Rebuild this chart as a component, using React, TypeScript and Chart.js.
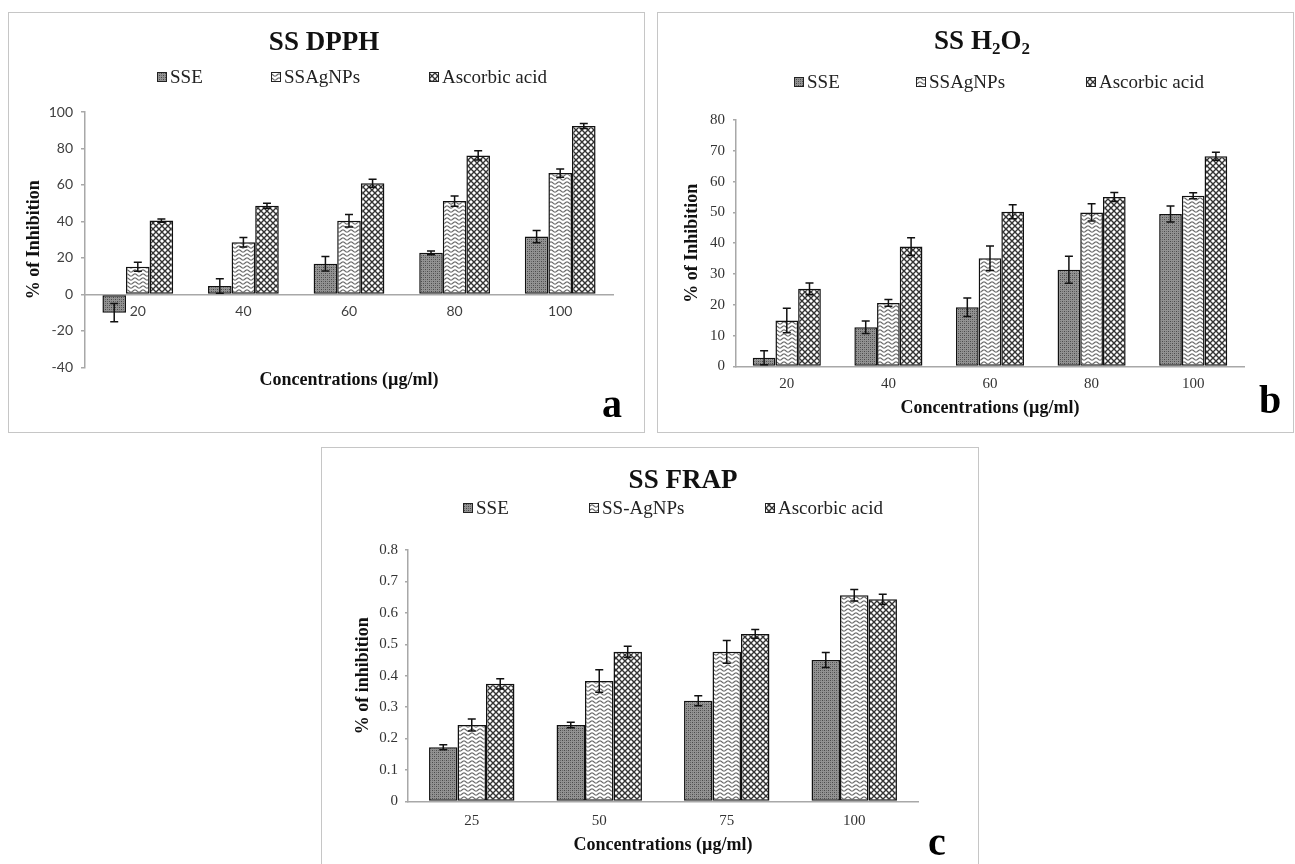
import React, { useEffect, useRef } from 'react';
import { Chart, registerables } from 'chart.js';

Chart.register(...registerables);

// ---------- DATA ----------
const dpphLabels = ['20', '40', '60', '80', '100'];
const dpphSSE = [-10, 4.6, 16.8, 22.8, 31.7];
const dpphSSEErr = [5, 4, 4, 1, 3.4];
const dpphAg = [15.2, 28.6, 40.4, 51.2, 66.5];
const dpphAgErr = [2.5, 2.6, 3.4, 2.8, 2.2];
const dpphAA = [40.5, 48.6, 61, 76.2, 92.3];
const dpphAAErr = [0.9, 1.4, 2.2, 2.5, 1.4];

const h2o2Labels = ['20', '40', '60', '80', '100'];
const h2o2SSE = [2.8, 12.7, 19.2, 31.4, 49.5];
const h2o2SSEErr = [2.3, 2, 3, 4.4, 2.6];
const h2o2Ag = [14.9, 20.6, 35.1, 50, 55.4];
const h2o2AgErr = [4, 1.1, 4, 2.8, 1];
const h2o2AA = [25.2, 38.9, 50.2, 55, 68.2];
const h2o2AAErr = [1.9, 2.9, 2.3, 1.5, 1.3];

const frapLabels = ['25', '50', '75', '100'];
const frapSSE = [0.172, 0.243, 0.32, 0.45];
const frapSSEErr = [0.008, 0.009, 0.016, 0.024];
const frapAg = [0.243, 0.383, 0.476, 0.656];
const frapAgErr = [0.019, 0.036, 0.036, 0.018];
const frapAA = [0.374, 0.476, 0.533, 0.643];
const frapAAErr = [0.016, 0.018, 0.014, 0.016];

const seriesNames = ['SSE', 'SSAgNPs', 'Ascorbic acid'];
const seriesNamesFrap = ['SSE', 'SS-AgNPs', 'Ascorbic acid'];
const xTitle = 'Concentrations (µg/ml)';
const yTitleUpper = '% of Inhibition';
const yTitleLower = '% of inhibition';

// ---------- PATTERNS ----------
function makeTile(w: number, h: number, draw: (c: CanvasRenderingContext2D) => void) {
  const t = document.createElement('canvas');
  t.width = w;
  t.height = h;
  const c = t.getContext('2d') as CanvasRenderingContext2D;
  draw(c);
  return t;
}

function makePatterns(ctx: CanvasRenderingContext2D) {
  const sse = makeTile(4, 4, (c) => {
    c.fillStyle = '#929292';
    c.fillRect(0, 0, 4, 4);
    c.fillStyle = '#4a4a4a';
    c.fillRect(0, 0, 1, 1);
    c.fillRect(2, 2, 1, 1);
    c.fillStyle = '#6a6a6a';
    c.fillRect(2, 0, 1, 1);
    c.fillRect(0, 2, 1, 1);
  });
  const ag = makeTile(8, 4, (c) => {
    c.fillStyle = '#ffffff';
    c.fillRect(0, 0, 8, 4);
    c.strokeStyle = '#6a6a6a';
    c.lineWidth = 1.2;
    c.beginPath();
    for (let i = -1; i <= 9; i += 0.5) {
      const y = 2 + Math.sin((i / 8) * Math.PI * 2) * 1.1;
      if (i === -1) c.moveTo(i, y);
      else c.lineTo(i, y);
    }
    c.stroke();
  });
  const aa = makeTile(6, 6, (c) => {
    c.fillStyle = '#ffffff';
    c.fillRect(0, 0, 6, 6);
    c.strokeStyle = '#333333';
    c.lineWidth = 1.4;
    c.beginPath();
    c.moveTo(-1, -1);
    c.lineTo(7, 7);
    c.moveTo(7, -1);
    c.lineTo(-1, 7);
    c.stroke();
  });
  return [
    ctx.createPattern(sse, 'repeat'),
    ctx.createPattern(ag, 'repeat'),
    ctx.createPattern(aa, 'repeat'),
  ];
}

// ---------- PLUGINS ----------
const errorBarPlugin = {
  id: 'errorBars',
  afterDatasetsDraw(chart: any) {
    const ctx = chart.ctx;
    const y = chart.scales.y;
    chart.data.datasets.forEach((ds: any, i: number) => {
      const errs = ds.errors;
      if (!errs) return;
      const meta = chart.getDatasetMeta(i);
      meta.data.forEach((bar: any, j: number) => {
        const v = ds.data[j];
        const e = errs[j];
        const top = y.getPixelForValue(v + e);
        const bot = y.getPixelForValue(v - e);
        const x = bar.x;
        ctx.save();
        ctx.strokeStyle = '#111';
        ctx.lineWidth = 1.5;
        ctx.beginPath();
        ctx.moveTo(x, top);
        ctx.lineTo(x, bot);
        ctx.moveTo(x - 4, top);
        ctx.lineTo(x + 4, top);
        ctx.moveTo(x - 4, bot);
        ctx.lineTo(x + 4, bot);
        ctx.stroke();
        ctx.restore();
      });
    });
  },
};

const decorPlugin = {
  id: 'decor',
  afterDraw(chart: any, _args: any, opts: any) {
    const ctx = chart.ctx;
    ctx.save();
    const bigFont = 'bold 27px "Liberation Serif"';
    const subFont = 'bold 17px "Liberation Serif"';
    let total = 0;
    opts.title.forEach((seg: any) => {
      ctx.font = seg.sub ? subFont : bigFont;
      total += ctx.measureText(seg.text).width;
    });
    let x = opts.titleX - total / 2;
    ctx.fillStyle = '#111';
    ctx.textAlign = 'left';
    ctx.textBaseline = 'alphabetic';
    opts.title.forEach((seg: any) => {
      ctx.font = seg.sub ? subFont : bigFont;
      ctx.fillText(seg.text, x, opts.titleY + (seg.sub ? 5 : 0));
      x += ctx.measureText(seg.text).width;
    });

    chart.data.datasets.forEach((ds: any, i: number) => {
      const bx = opts.legendX[i];
      const by = opts.legendY;
      ctx.fillStyle = ds.backgroundColor;
      ctx.fillRect(bx, by - 5, 10, 10);
      ctx.strokeStyle = '#222';
      ctx.lineWidth = 1;
      ctx.strokeRect(bx + 0.5, by - 4.5, 9, 9);
      ctx.fillStyle = '#222';
      ctx.font = '19px "Liberation Serif"';
      ctx.textBaseline = 'middle';
      ctx.fillText(ds.label, bx + 13, by + 1);
    });

    ctx.font = 'bold 40px "Liberation Serif"';
    ctx.textAlign = 'center';
    ctx.textBaseline = 'alphabetic';
    ctx.fillStyle = '#000';
    ctx.fillText(opts.letter, opts.letterX, opts.letterY);
    ctx.restore();
  },
};

// ---------- PANELS ----------
const serifTick = { family: 'Liberation Serif', size: 15 };
const sansTick = { family: 'Lato', size: 14 };
const axisTitleFont = { family: 'Liberation Serif', size: 18, weight: 'bold' as const };

const panelA = {
  left: 8, top: 12, w: 635, h: 419,
  labels: dpphLabels,
  values: [dpphSSE, dpphAg, dpphAA],
  errors: [dpphSSEErr, dpphAgErr, dpphAAErr],
  names: seriesNames,
  yMin: -40, yMax: 100, yStep: 20,
  zeroAxis: true,
  tickFont: sansTick, tickColor: '#404040',
  padding: { left: 8, right: 31, top: 99, bottom: 41 },
  yWidth: 68, yTitlePad: 7, yTitle: yTitleUpper,
  yTickLen: 4, yTickPad: 8,
  xTickPad: 9, xTitlePad: 2,
  decor: {
    title: [{ text: 'SS DPPH' }],
    titleX: 315, titleY: 37,
    legendX: [148, 262, 420], legendY: 64,
    letter: 'a', letterX: 603, letterY: 404,
  },
};

const panelB = {
  left: 657, top: 12, w: 635, h: 419,
  labels: h2o2Labels,
  values: [h2o2SSE, h2o2Ag, h2o2AA],
  errors: [h2o2SSEErr, h2o2AgErr, h2o2AAErr],
  names: seriesNames,
  yMin: 0, yMax: 80, yStep: 10,
  zeroAxis: false,
  tickFont: serifTick, tickColor: '#333',
  padding: { left: 8, right: 49, top: 107, bottom: 13 },
  yWidth: 70, yTitlePad: 16, yTitle: yTitleUpper,
  yTickLen: 3, yTickPad: 8,
  xTickPad: 9, xTitlePad: -5,
  decor: {
    title: [{ text: 'SS H' }, { text: '2', sub: true }, { text: 'O' }, { text: '2', sub: true }],
    titleX: 324, titleY: 36,
    legendX: [136, 258, 428], legendY: 69,
    letter: 'b', letterX: 612, letterY: 400,
  },
};

const panelC = {
  left: 321, top: 447, w: 656, h: 428,
  labels: frapLabels,
  values: [frapSSE, frapAg, frapAA],
  errors: [frapSSEErr, frapAgErr, frapAAErr],
  names: seriesNamesFrap,
  yMin: 0, yMax: 0.8, yStep: 0.1,
  zeroAxis: false,
  tickFont: serifTick, tickColor: '#333',
  padding: { left: 8, right: 60, top: 102, bottom: 20 },
  yWidth: 78, yTitlePad: 23, yTitle: yTitleLower,
  yTickLen: 3, yTickPad: 7,
  xTickPad: 11, xTitlePad: -7,
  decor: {
    title: [{ text: 'SS FRAP' }],
    titleX: 361, titleY: 40,
    legendX: [141, 267, 443], legendY: 60,
    letter: 'c', letterX: 615, letterY: 407,
  },
};

function Panel({ cfg }: { cfg: any }) {
  const ref = useRef<HTMLCanvasElement | null>(null);

  useEffect(() => {
    const canvas = ref.current;
    if (!canvas) return;
    const ctx = canvas.getContext('2d') as CanvasRenderingContext2D;
    const pats = makePatterns(ctx);
    const axisGray = '#a8a8a8';

    const scales: any = {
      x: {
        type: 'category',
        position: cfg.zeroAxis ? { y: 0 } : 'bottom',
        afterFit: cfg.zeroAxis ? (s: any) => { s.height = 0; } : undefined,
        grid: { display: false, drawTicks: false },
        border: { display: true, color: axisGray, width: 1.5 },
        ticks: { font: cfg.tickFont, color: cfg.tickColor, padding: cfg.xTickPad, maxRotation: 0 },
        title: cfg.zeroAxis
          ? { display: false }
          : { display: true, text: xTitle, font: axisTitleFont, color: '#111', padding: { top: cfg.xTitlePad, bottom: 0 } },
      },
    };
    if (cfg.zeroAxis) {
      scales.x2 = {
        type: 'category',
        axis: 'x',
        position: 'bottom',
        grid: { display: false, drawTicks: false },
        border: { display: false },
        ticks: { display: false },
        title: { display: true, text: xTitle, font: axisTitleFont, color: '#111', padding: { top: cfg.xTitlePad, bottom: 0 } },
      };
    }
    scales.y = {
      min: cfg.yMin,
      max: cfg.yMax,
      afterFit: (s: any) => { s.width = cfg.yWidth; },
      ticks: { stepSize: cfg.yStep, font: cfg.tickFont, color: cfg.tickColor, padding: cfg.yTickPad },
      grid: { display: true, drawOnChartArea: false, drawTicks: true, tickLength: cfg.yTickLen, color: axisGray, lineWidth: 1.5 },
      border: { display: true, color: axisGray, width: 1.5 },
      title: { display: true, text: cfg.yTitle, font: axisTitleFont, color: '#111', padding: { top: cfg.yTitlePad, bottom: 0 } },
    };

    const chart = new Chart(ctx, {
      type: 'bar',
      data: {
        labels: cfg.labels,
        datasets: cfg.values.map((vals: number[], i: number) => ({
          label: cfg.names[i],
          data: vals,
          errors: cfg.errors[i],
          backgroundColor: pats[i],
          borderColor: '#111',
          borderWidth: 1.5,
          borderSkipped: false,
          categoryPercentage: 0.67,
          barPercentage: 1,
        })) as any,
      },
      options: {
        responsive: false,
        animation: false,
        layout: { padding: cfg.padding },
        scales,
        plugins: {
          legend: { display: false },
          title: { display: false },
          tooltip: { enabled: false },
          decor: cfg.decor,
        } as any,
      },
      plugins: [errorBarPlugin, decorPlugin],
    });
    return () => chart.destroy();
  }, [cfg]);

  return (
    <div
      style={{
        position: 'absolute',
        left: cfg.left,
        top: cfg.top,
        width: cfg.w + 2,
        height: cfg.h + 2,
        border: '1px solid #c6c6c6',
        boxSizing: 'border-box',
        background: '#fff',
      }}
    >
      <canvas ref={ref} width={cfg.w} height={cfg.h} style={{ display: 'block' }} />
    </div>
  );
}

export default function App() {
  return (
    <div
      style={{
        position: 'absolute',
        left: 0,
        top: 0,
        width: 1295,
        height: 864,
        overflow: 'hidden',
        background: '#fff',
      }}
    >
      <Panel cfg={panelA} />
      <Panel cfg={panelB} />
      <Panel cfg={panelC} />
    </div>
  );
}
